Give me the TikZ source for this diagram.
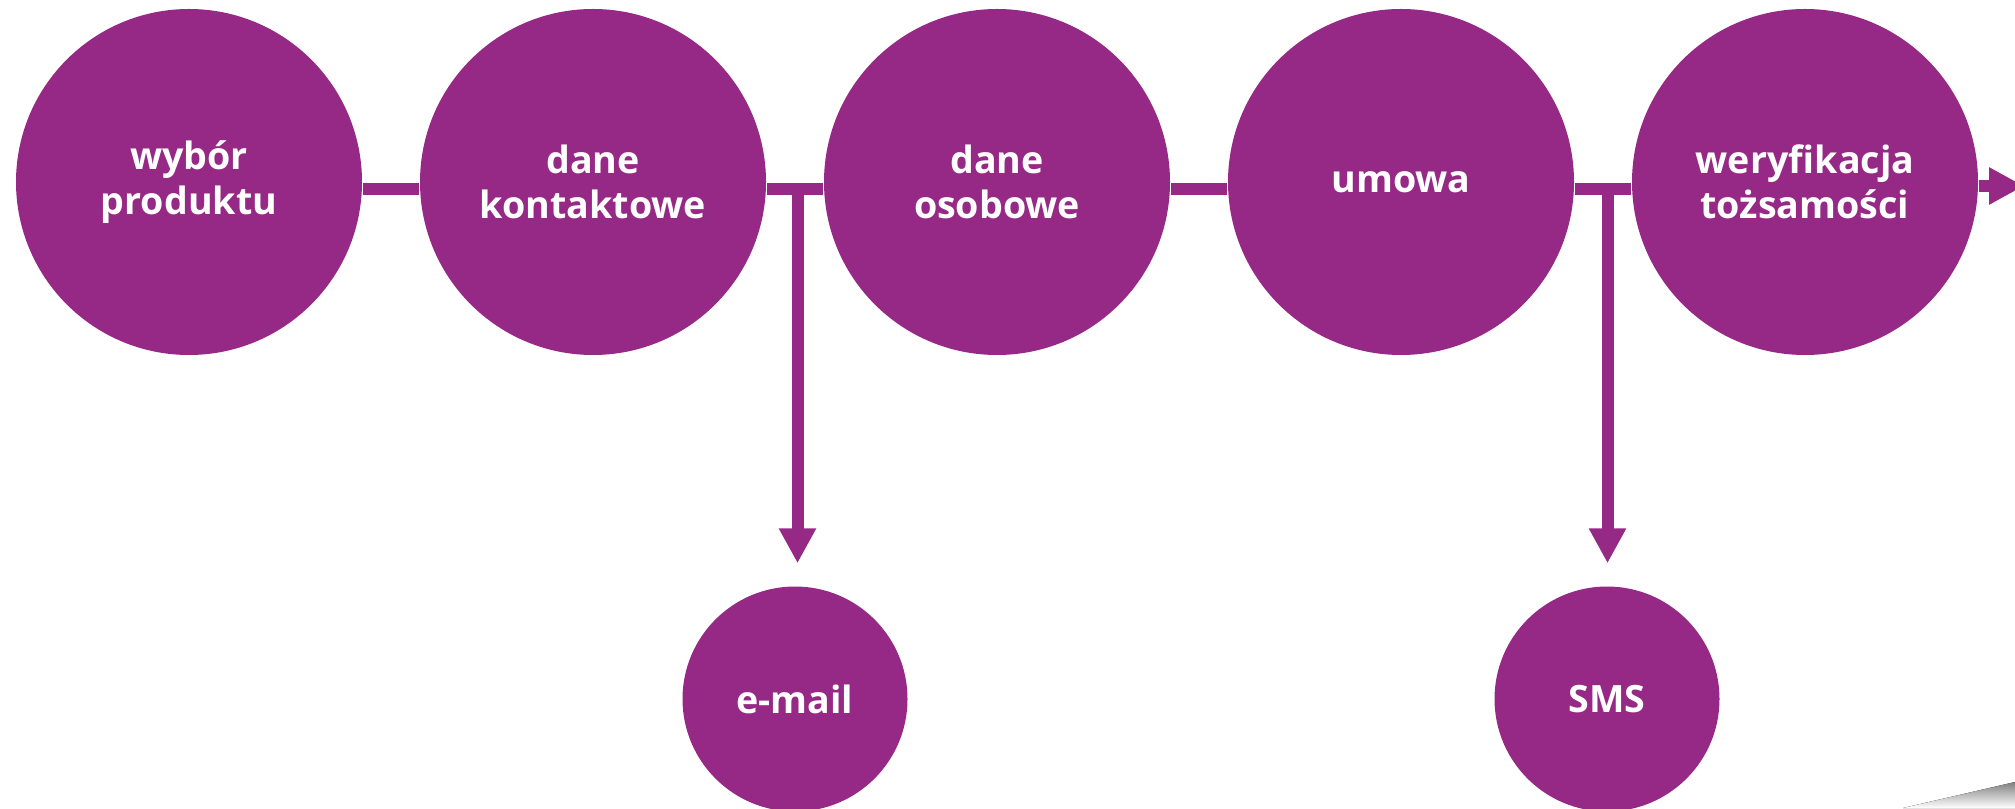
\documentclass[tikz,border=0pt]{standalone}
\usepackage{fontspec}
\setmainfont{Open Sans}
\usepackage {tikz}
\usetikzlibrary {positioning,arrows.meta}
\definecolor{plum}{RGB}{150,41,133}
\definecolor{shade}{RGB}{235,235,235}

\begin{document}
\begin{tikzpicture}[node distance =4.04cm ,on grid ,
    stage/.style ={ circle ,fill =plum ,
    text=white , minimum size =3.46cm ,align=center ,
    font=\fontsize{10.7}{12.8}\selectfont\bfseries},
    side/.style ={stage ,minimum size =2.25cm},
    bar/.style={draw=plum ,line width =1.2mm},
    arr/.style={bar ,-{Triangle[width=3.5mm,length=3.5mm]}}
    ]
    \clip (0,0) rectangle (20.15,8.08);
    \fill[shade] (19.03,0) -- (20.15,0.26) -- (20.15,0) -- cycle;

    \node[stage] (A) at (1.89,6.26) {wybór\\produktu};
    \node[stage] (B) [right = of A] {dane\\kontaktowe};
    \node[stage] (C) [right = of B] {dane\\osobowe};
    \node[stage] (D) [right = of C] {umowa};
    \node[stage] (F) [right = of D] {weryfikacja\\tożsamości};
    \coordinate[below right = 0.07cm and 2.045cm of B] (j1);
    \coordinate[below right = 0.07cm and 2.065cm of D] (j2);
    \coordinate[below right = 0.04cm and 2.19cm of F] (out);
    \node[side] (E) [below right = 5.17cm and 2.02cm of B] {e-mail};
    \node[side] (S) [below right = 5.17cm and 2.06cm of D] {SMS};

    \draw[bar] (A.east |- j1) -- (B.west |- j1);
    \draw[bar] (B.east |- j1) -- (C.west |- j1);
    \draw[bar] (C.east |- j1) -- (D.west |- j1);
    \draw[bar] (D.east |- j2) -- (F.west |- j2);
    \draw[arr ,shorten >=2.25mm] (j1) -- (j1 |- E.north);
    \draw[arr ,shorten >=2.25mm] (j2) -- (j2 |- S.north);
    \draw[arr] (F.east |- out) -- (out);
\end{tikzpicture}
\end{document}
